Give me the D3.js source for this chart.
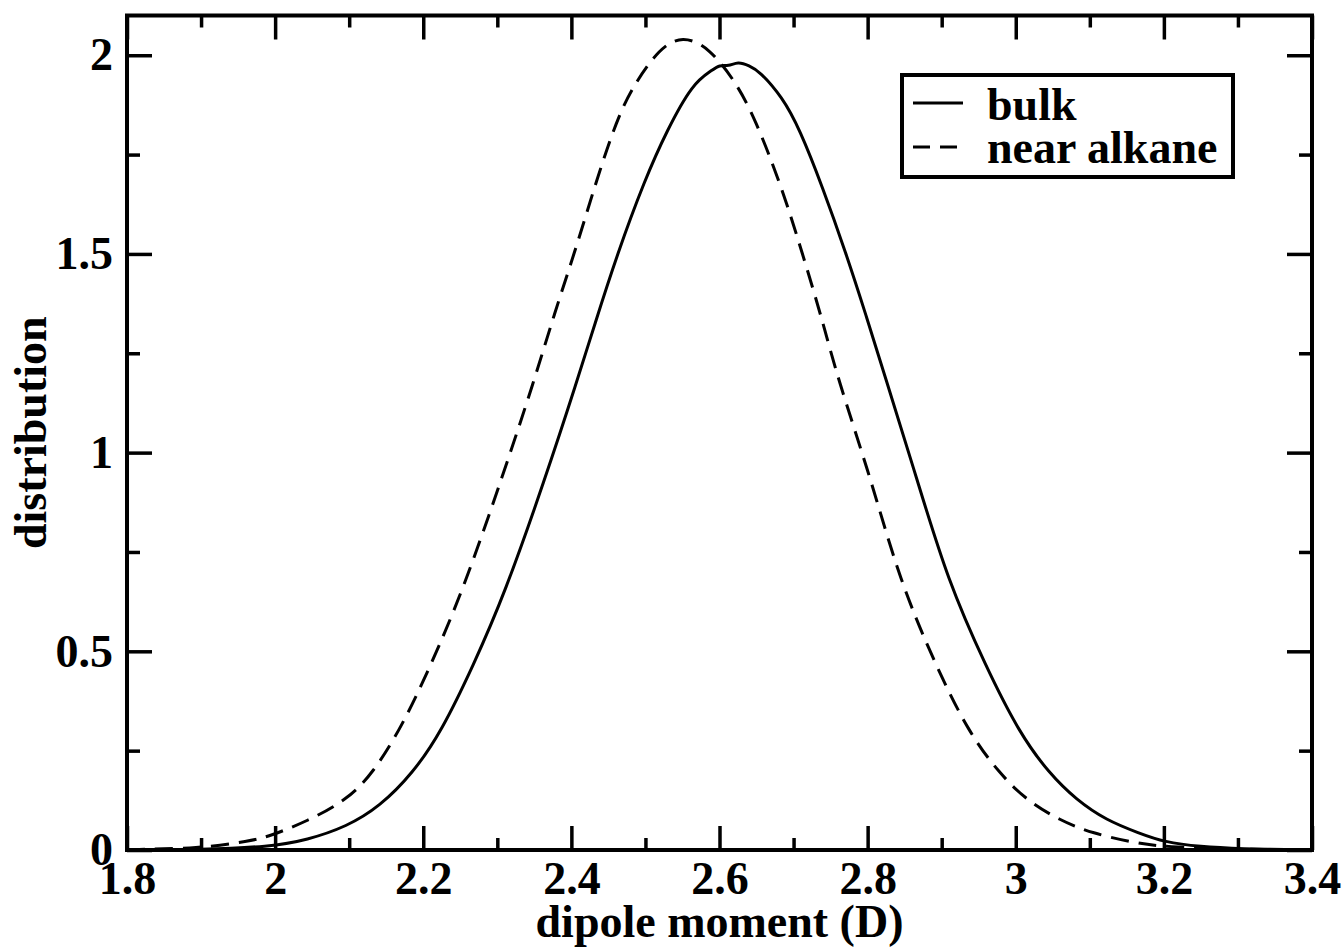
<!DOCTYPE html>
<html>
<head>
<meta charset="utf-8">
<script src="https://cdn.jsdelivr.net/npm/d3@7"></script>
<style>
  html, body { margin: 0; padding: 0; background: #fff; }
  text { font-family: "Liberation Serif", "Times New Roman", serif; font-weight: bold; fill: #000; }
</style>
</head>
<body>
<svg id="chart" width="1343" height="950"></svg>
<script>
// ---- data ----
const bulkX = [1.80, 1.90, 1.993, 2.043, 2.097, 2.141, 2.186, 2.225, 2.267, 2.310, 2.364, 2.408, 2.431, 2.462, 2.499, 2.529, 2.564, 2.590, 2.600, 2.612, 2.625, 2.640, 2.654, 2.685, 2.708, 2.739, 2.771, 2.798, 2.823, 2.867, 2.908, 2.960, 3.005, 3.045, 3.082, 3.122, 3.167, 3.200, 3.250, 3.300, 3.400];
const bulkY = [0.000, 0.001, 0.008, 0.025, 0.059, 0.109, 0.193, 0.300, 0.462, 0.645, 0.931, 1.182, 1.320, 1.500, 1.686, 1.811, 1.930, 1.962, 1.976, 1.972, 1.984, 1.974, 1.960, 1.894, 1.815, 1.669, 1.501, 1.345, 1.195, 0.931, 0.679, 0.460, 0.294, 0.193, 0.126, 0.075, 0.042, 0.020, 0.008, 0.003, 0.000];

const nearX = [1.80, 1.898, 1.966, 1.993, 2.043, 2.097, 2.132, 2.171, 2.209, 2.253, 2.307, 2.350, 2.377, 2.407, 2.434, 2.461, 2.483, 2.519, 2.550, 2.586, 2.623, 2.648, 2.684, 2.712, 2.739, 2.759, 2.805, 2.843, 2.893, 2.937, 2.978, 3.014, 3.059, 3.103, 3.163, 3.200, 3.300, 3.400];
const nearY = [0.001, 0.004, 0.022, 0.035, 0.072, 0.126, 0.193, 0.310, 0.460, 0.650, 0.940, 1.182, 1.350, 1.518, 1.686, 1.836, 1.922, 2.018, 2.050, 2.020, 1.930, 1.840, 1.669, 1.501, 1.333, 1.190, 0.931, 0.679, 0.460, 0.294, 0.193, 0.126, 0.075, 0.042, 0.017, 0.008, 0.002, 0.000];

const xMajorTicks = [1.8, 2.0, 2.2, 2.4, 2.6, 2.8, 3.0, 3.2, 3.4];
const xMinorTicks = [1.9, 2.1, 2.3, 2.5, 2.7, 2.9, 3.1, 3.3];
const yMajorTicks = [0, 0.5, 1, 1.5, 2];
const yMinorTicks = [0.25, 0.75, 1.25, 1.75];
const xTickLabels = ["1.8", "2", "2.2", "2.4", "2.6", "2.8", "3", "3.2", "3.4"];
const yTickLabels = ["0", "0.5", "1", "1.5", "2"];

const seriesNames = ["bulk", "near alkane"];
const xTitle = "dipole moment (D)";
const yTitle = "distribution";

// ---- layout ----
const W = 1343, H = 950;
const margin = { left: 127, top: 15.5, right: 31, bottom: 100 };
const iw = W - margin.left - margin.right;
const ih = H - margin.top - margin.bottom;

const svg = d3.select("#chart");
const g = svg.append("g").attr("transform", `translate(${margin.left},${margin.top})`);

const x = d3.scaleLinear().domain([1.8, 3.4]).range([0, iw]);
const y = d3.scaleLinear().domain([0, 2.1]).range([ih, 0]);

const FS = 46;

function styleAxis(sel) {
  sel.select(".domain").remove();
  sel.selectAll(".tick line").attr("stroke", "#000").attr("stroke-width", 3.5);
  sel.selectAll(".tick text").style("font-size", FS + "px");
}

// bottom major
g.append("g").attr("transform", `translate(0,${ih})`)
  .call(d3.axisBottom(x).tickValues(xMajorTicks).tickSize(-24).tickPadding(11)
    .tickFormat((d, i) => xTickLabels[i]))
  .call(styleAxis);
// bottom minor
g.append("g").attr("transform", `translate(0,${ih})`)
  .call(d3.axisBottom(x).tickValues(xMinorTicks).tickSize(-12).tickFormat(""))
  .call(styleAxis);
// top major/minor
g.append("g")
  .call(d3.axisTop(x).tickValues(xMajorTicks).tickSize(-24).tickFormat(""))
  .call(styleAxis);
g.append("g")
  .call(d3.axisTop(x).tickValues(xMinorTicks).tickSize(-12).tickFormat(""))
  .call(styleAxis);
// left major
g.append("g")
  .call(d3.axisLeft(y).tickValues(yMajorTicks).tickSize(-25).tickPadding(14)
    .tickFormat((d, i) => yTickLabels[i]))
  .call(styleAxis);
g.append("g")
  .call(d3.axisLeft(y).tickValues(yMinorTicks).tickSize(-13).tickFormat(""))
  .call(styleAxis);
// right
g.append("g").attr("transform", `translate(${iw},0)`)
  .call(d3.axisRight(y).tickValues(yMajorTicks).tickSize(-25).tickFormat(""))
  .call(styleAxis);
g.append("g").attr("transform", `translate(${iw},0)`)
  .call(d3.axisRight(y).tickValues(yMinorTicks).tickSize(-13).tickFormat(""))
  .call(styleAxis);

// ---- curves ----
const line = d3.line().x(d => x(d[0])).y(d => y(d[1])).curve(d3.curveBasis);
const bulk = bulkX.map((v, i) => [v, bulkY[i]]);
const near = nearX.map((v, i) => [v, nearY[i]]);

g.append("path").datum(bulk).attr("d", line)
  .attr("fill", "none").attr("stroke", "#000").attr("stroke-width", 3);
g.append("path").datum(near).attr("d", line)
  .attr("fill", "none").attr("stroke", "#000").attr("stroke-width", 3)
  .attr("stroke-dasharray", "18,10");

// ---- frame ----
g.append("rect").attr("x", 0).attr("y", 0).attr("width", iw).attr("height", ih)
  .attr("fill", "none").attr("stroke", "#000").attr("stroke-width", 4);

// ---- axis titles ----
svg.append("text").attr("x", margin.left + iw / 2).attr("y", 937)
  .attr("text-anchor", "middle").style("font-size", FS + "px").text(xTitle);
svg.append("text").attr("transform", `translate(46,${margin.top + ih / 2}) rotate(-90)`)
  .attr("text-anchor", "middle").style("font-size", FS + "px").text(yTitle);

// ---- legend ----
const lg = svg.append("g");
lg.append("rect").attr("x", 902).attr("y", 75).attr("width", 331).attr("height", 102)
  .attr("fill", "#fff").attr("stroke", "#000").attr("stroke-width", 4);
const legendRows = [
  { name: seriesNames[0], dash: null, ly: 103, ty: 120 },
  { name: seriesNames[1], dash: "17,10", ly: 147, ty: 163 }
];
legendRows.forEach(r => {
  lg.append("line").attr("x1", 913).attr("x2", 963).attr("y1", r.ly).attr("y2", r.ly)
    .attr("stroke", "#000").attr("stroke-width", 3)
    .attr("stroke-dasharray", r.dash);
  lg.append("text").attr("x", 987).attr("y", r.ty).style("font-size", FS + "px").text(r.name);
});
</script>
</body>
</html>
